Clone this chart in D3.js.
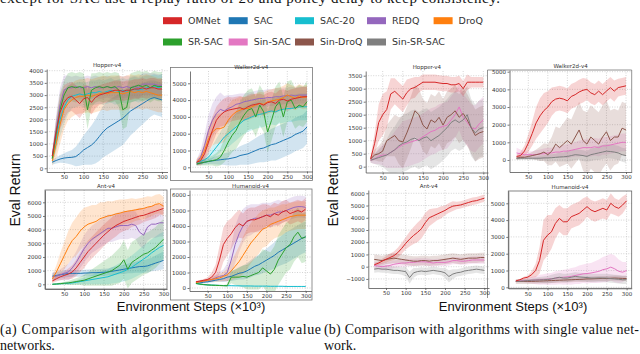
<!DOCTYPE html>
<html>
<head>
<meta charset="utf-8">
<script src="https://cdn.jsdelivr.net/npm/d3@7"></script>
<style>
  body { margin: 0; background: #fff; }
  svg { display: block; }
</style>
</head>
<body>
<div id="container"></div>
<script>
let w = 640;
let h = 354;

// DATA
const steps = [20,30,40,50,60,70,80,90,100,110,120,130,140,150,160,170,180,190,200,210,220,230,240,250,260,270,280,290,300];
const xTicks = [50,100,150,200,250,300];

const legendRow1 = ["OMNet","SAC","SAC-20","REDQ","DroQ"];
const legendRow2 = ["SR-SAC","Sin-SAC","Sin-DroQ","Sin-SR-SAC"];
const multiAlgos = ["SAC","SAC-20","REDQ","DroQ","SR-SAC","OMNet"];
const singleAlgos = ["Sin-SAC","Sin-DroQ","Sin-SR-SAC","OMNet"];

// y tick labels per panel
const hopperMultiTicks = [0,500,1000,1500,2000,2500,3000,3500,4000];
const walkerMultiTicks = [0,1000,2000,3000,4000,5000];
const antMultiTicks = [0,1000,2000,3000,4000,5000,6000];
const humanoidMultiTicks = [0,1000,2000,3000,4000,5000,6000];
const hopperSingleTicks = [0,500,1000,1500,2000,2500,3000,3500];
const walkerSingleTicks = [0,1000,2000,3000,4000,5000];
const antSingleTicks = [-1000,0,1000,2000,3000,4000,5000,6000];
const humanoidSingleTicks = [0,1000,2000,3000,4000,5000];

// means, same order as multiAlgos (SAC, SAC-20, REDQ, DroQ, SR-SAC, OMNet)
const hopperMultiMean = [
  [250,320,380,420,440,450,480,600,750,850,950,1100,1300,1500,1650,1750,1850,1950,2050,2200,2350,2450,2550,2650,2750,2850,2900,2850,2800],
  [400,1200,2000,2500,2800,2950,3000,3050,3000,3050,3100,3100,3150,3100,3150,3200,3100,3150,3200,3150,3200,3250,3200,3250,3300,3300,3350,3300,3350],
  [500,1600,2600,3200,3300,3300,3350,3300,3300,3350,3300,3350,3300,3300,3350,3300,3300,3350,3300,3350,3300,3350,3300,3450,3450,3450,3450,3400,3400],
  [300,1000,1800,2400,2650,2800,2900,2950,2950,3000,2950,3000,3050,3100,3050,3100,3100,3100,3050,3100,3150,3100,3150,3100,3150,3100,3050,3000,3000],
  [400,1400,2400,3000,3300,3350,3300,3350,3300,2400,3200,3300,3350,3300,3350,3300,3350,3200,2400,2500,3300,3350,3400,3350,3400,3300,3400,3350,3350],
  [500,1500,2300,2700,2900,2950,2800,2650,2850,2900,2700,2900,3000,3050,3100,3150,3200,3200,3150,3200,3200,3250,3250,3300,3250,3300,3300,3250,3250]
];
const hopperMultiSpread = [
  [100,120,150,200,250,300,400,500,600,700,800,900,1000,1050,1100,1100,1100,1100,1100,1050,1000,950,900,850,800,750,700,700,700],
  [200,500,700,700,600,500,500,500,500,500,500,500,500,500,500,500,500,500,500,500,500,500,500,500,500,500,500,500,500],
  [200,600,700,600,500,450,450,450,450,450,450,450,450,450,450,450,450,450,450,450,450,450,450,450,450,450,450,450,450],
  [200,600,800,800,700,700,700,700,700,700,700,700,700,700,700,700,700,700,700,700,700,700,700,700,700,700,700,700,700],
  [200,600,700,600,600,600,600,600,600,800,700,600,600,600,600,600,600,700,800,800,600,600,600,600,600,600,600,600,600],
  [200,500,700,700,600,600,600,600,550,500,500,450,400,400,400,400,400,400,400,400,400,400,400,400,400,400,400,400,400]
];

const walkerMultiMean = [
  [200,250,300,350,380,420,450,480,500,550,600,700,750,800,900,1000,1100,1150,1250,1350,1400,1500,1600,1700,1800,1950,2050,2150,2400],
  [300,350,450,600,900,1200,1500,1800,2000,2200,2400,2600,2800,2900,3000,3100,3150,3200,3300,3350,3300,3400,3450,3500,3500,3550,3600,3600,3600],
  [300,600,1300,2200,2800,3200,3450,3350,3500,3600,3750,3800,3900,3950,4000,4050,4100,4100,4150,4150,4200,4200,4250,4250,4300,4250,4300,4300,4300],
  [300,500,1000,1700,2100,2300,2300,2400,2800,3100,3300,3400,3500,3500,3600,3700,3800,3750,3900,3950,4000,4050,4150,4300,4200,4100,4250,4150,4200],
  [200,250,300,350,400,450,600,1000,1500,1900,2200,2700,3100,3400,3500,3000,3700,3300,2100,2800,3600,3900,3000,3900,4000,3500,3700,3600,3900],
  [300,400,800,1500,2200,2800,3100,3300,3400,3450,3500,3550,3450,3600,3700,3750,3800,3700,3850,3900,3800,4000,4050,3950,4050,4100,4150,4200,4200]
];
const walkerMultiSpread = [
  [100,100,150,150,200,250,300,350,400,450,500,550,600,650,700,750,800,850,900,950,1000,1000,1000,1000,1000,1000,1000,1000,1000],
  [100,150,200,300,400,500,600,700,800,800,800,800,800,800,800,800,800,800,800,800,800,800,800,800,800,800,800,800,800],
  [200,400,700,900,1000,1000,1000,900,800,700,600,600,500,500,500,500,500,500,500,500,500,500,500,500,500,500,500,500,500],
  [200,300,500,700,800,900,900,900,900,900,800,800,700,700,700,700,700,700,700,700,700,700,700,700,700,700,700,700,700],
  [100,150,200,250,300,400,500,700,900,1000,1100,1200,1200,1200,1200,1200,1200,1200,1200,1200,1200,1200,1200,1200,1200,1200,1200,1200,1200],
  [150,300,500,700,800,800,800,800,800,700,700,700,700,700,700,600,600,600,600,600,600,600,600,600,600,600,600,600,600]
];

const antMultiMean = [
  [600,650,700,750,780,800,800,800,820,830,850,850,870,880,900,950,1000,1050,1100,1150,1200,1250,1300,1300,1350,1450,1550,1650,1750],
  [0,20,40,60,80,100,150,200,250,300,350,400,450,500,550,650,750,850,950,1100,1250,1450,1650,1850,2050,2300,2500,2700,2850],
  [550,600,700,800,900,1200,1600,2100,2600,3000,3300,3500,3700,3900,4100,4100,4200,4300,4300,4300,4400,4300,3800,3600,4200,4400,4400,4500,4500],
  [400,900,1500,2100,2700,3200,3500,3900,4200,4400,4500,4600,4800,4900,5000,5050,5150,5200,5300,5350,5400,5450,5500,5550,5650,5700,5850,5900,5700],
  [0,20,50,80,100,150,200,250,300,400,500,600,700,800,900,1000,1200,1400,1800,1100,1600,1800,2000,2200,2300,2500,2700,3000,3300],
  [250,400,550,650,750,900,1200,1600,2000,2400,2700,3000,3300,3600,3850,4100,4300,4450,4600,4700,4800,4900,5000,5050,5150,5250,5350,5450,5550]
];
const antMultiSpread = [
  [250,250,250,250,250,250,250,250,250,250,250,250,250,250,250,300,300,300,350,350,400,400,450,450,500,500,550,600,650],
  [50,50,50,80,100,120,150,200,250,300,350,400,450,500,550,600,650,700,750,800,850,900,950,1000,1000,1000,1000,1000,1000],
  [300,300,400,500,600,700,800,900,1000,1000,1000,1000,1000,1000,1000,1000,1000,1000,1000,1000,1000,1000,1000,1000,1000,1000,1000,1000,1000],
  [300,500,800,1000,1200,1300,1400,1400,1400,1300,1300,1200,1200,1100,1100,1000,1000,1000,900,900,900,800,800,800,800,700,700,700,700],
  [50,50,80,100,150,200,250,300,400,500,600,700,800,900,1000,1100,1200,1300,1400,1400,1500,1500,1500,1500,1500,1500,1500,1500,1500],
  [150,200,250,300,400,500,600,700,800,800,800,800,800,800,800,800,800,700,700,700,600,600,600,500,500,500,500,400,400]
];

const humanoidMultiMean = [
  [300,330,370,400,450,500,550,600,700,750,850,950,1000,1100,1250,1400,1500,1650,1800,1950,2100,2300,2450,2600,2750,2900,3050,3200,3300],
  [300,250,220,200,190,180,170,160,150,150,140,140,130,130,130,120,120,120,120,110,110,110,110,100,100,100,100,100,100],
  [400,420,450,500,550,650,750,800,1000,1800,2800,3500,4000,4300,4400,4500,4500,4600,4700,4700,4800,4900,4900,5000,5100,5200,5250,5250,5200],
  [350,400,450,500,550,600,650,750,850,1100,1400,1700,2100,2500,2900,3200,3500,3800,3900,4100,4200,4300,4400,4500,4600,4650,4700,4700,4700],
  [300,250,220,200,180,170,160,150,150,700,700,700,750,700,800,900,1000,1300,1100,900,1200,1800,2200,2600,2800,3300,3600,3200,3300],
  [400,450,500,550,700,1000,1800,2800,3200,3500,3900,4150,4000,4300,4400,4400,4500,4600,4700,4600,4800,4700,4900,5000,4800,4900,5000,4900,5100]
];
const humanoidMultiSpread = [
  [50,50,60,80,100,120,150,200,250,300,350,400,450,500,550,600,650,700,750,800,850,900,950,1000,1000,1000,1000,1000,1000],
  [50,50,40,40,30,30,30,30,30,30,30,30,30,30,30,30,30,30,30,30,30,30,30,30,30,30,30,30,30],
  [50,60,80,100,150,200,300,400,600,900,1200,1200,1100,1000,1000,900,900,900,800,800,800,800,700,700,700,700,700,700,700],
  [50,60,80,100,150,200,250,300,400,600,800,1000,1200,1300,1300,1300,1300,1200,1200,1100,1000,1000,1000,900,900,900,900,900,900],
  [50,50,50,50,50,50,50,50,100,400,500,600,700,800,900,1000,1100,1200,1300,1400,1500,1600,1600,1600,1600,1600,1600,1600,1600],
  [50,60,80,150,300,500,900,1100,1100,1000,900,900,800,800,800,800,800,800,700,700,700,700,700,700,700,700,700,700,700]
];

// means, same order as singleAlgos (Sin-SAC, Sin-DroQ, Sin-SR-SAC, OMNet)
const hopperSingleMean = [
  [250,300,400,450,450,550,650,750,850,900,950,1000,1050,1150,1250,1350,1400,1500,1550,1600,1800,2000,2300,1900,1700,1500,1450,1650,1800],
  [300,450,500,600,1000,1100,1200,1000,950,1300,1700,2150,2000,1600,1450,1800,1700,1900,1600,1900,2000,2150,1900,2050,1800,1500,1200,1300,1350],
  [250,300,350,400,450,550,650,800,900,950,1050,1100,1000,1100,1150,1000,1100,1200,1350,1500,1700,1800,1700,1800,2000,1500,1300,1450,1500],
  [300,900,1700,2000,2200,2800,2900,2750,2600,2850,3000,3050,3150,3250,3250,3250,3250,3220,3200,3200,3150,3150,3200,3000,3250,3250,3250,3250,3250]
];
const hopperSingleSpread = [
  [100,200,300,400,500,600,700,800,900,900,900,900,900,900,900,900,900,900,900,900,900,900,900,900,900,900,900,900,900],
  [100,200,300,400,600,700,800,900,1000,1000,1000,1000,1000,1000,1000,1000,1000,1000,1000,1000,1000,1000,1000,1000,1000,1000,1000,1000,1000],
  [100,200,300,400,600,800,900,1000,1100,1100,1100,1100,1100,1100,1100,1100,1100,1100,1100,1100,1100,1100,1100,1100,1100,1100,1100,1100,1100],
  [100,400,700,800,700,600,500,500,500,500,400,400,300,300,300,300,300,300,300,300,300,300,300,300,300,200,200,200,200]
];

const walkerSingleMean = [
  [400,350,300,300,300,300,350,350,400,400,450,450,500,500,550,600,650,700,700,700,750,700,800,800,850,900,950,1000,1000],
  [100,150,150,200,250,300,350,450,300,500,900,700,900,1100,900,1300,1700,1100,900,1300,1100,900,1300,1600,1100,1300,1300,1800,1700],
  [100,100,100,100,100,100,100,120,120,130,150,170,180,200,250,300,280,250,200,300,350,400,450,500,480,450,400,300,250],
  [200,250,500,950,1500,2100,2500,2800,3000,3300,3450,3500,3450,3350,3600,3700,3850,3950,4000,3800,3700,3900,3700,3900,4100,3900,4100,4150,4200]
];
const walkerSingleSpread = [
  [300,250,200,200,200,250,250,300,300,300,300,350,350,400,400,400,450,450,500,500,500,500,500,500,500,500,500,500,500],
  [100,100,100,150,200,300,400,500,600,800,1000,1100,1200,1300,1400,1500,1600,1700,1800,1800,1800,1800,1800,1800,1700,1600,1500,1500,1500],
  [100,100,100,100,100,100,150,150,200,200,200,250,250,300,300,300,300,300,300,350,350,400,400,400,400,400,400,400,400],
  [100,200,300,500,700,900,1000,1000,900,800,700,700,700,700,700,700,700,700,600,600,600,600,600,600,600,600,500,500,500]
];

const antSingleMean = [
  [100,50,0,50,100,200,250,300,300,350,350,400,400,400,350,300,350,350,350,400,500,500,450,450,500,550,550,550,550],
  [600,550,500,600,650,700,650,600,550,500,450,450,500,500,450,500,500,550,600,650,700,650,600,650,700,700,700,750,750],
  [-200,-150,-200,-200,-250,-300,-300,-350,-400,-900,-500,-400,-350,-400,-350,-300,-350,-400,-500,-800,-600,-500,-450,-350,-300,-250,-200,-250,-300],
  [150,280,450,600,750,900,1150,1500,1900,2250,2550,2800,3100,3600,4000,4150,4300,4450,4600,4800,4950,5000,5050,5150,5250,5350,5400,5500,5600]
];
const antSingleSpread = [
  [300,300,300,300,300,300,300,300,300,300,300,300,300,300,300,300,300,300,300,300,300,300,300,300,300,300,300,300,300],
  [400,400,400,400,400,400,400,400,400,400,400,400,400,400,400,400,400,400,400,400,400,400,400,400,400,400,400,400,400],
  [300,300,300,300,300,300,300,300,400,500,400,300,300,300,300,300,300,300,400,500,400,300,300,300,300,300,300,300,300],
  [100,150,200,250,300,350,400,450,500,600,700,800,800,800,700,600,500,500,400,400,400,300,300,300,300,300,300,300,300]
];

const humanoidSingleMean = [
  [350,380,400,400,420,430,450,470,480,500,550,580,600,620,650,700,750,800,820,850,900,950,1050,1100,1200,1100,950,900,1000],
  [350,350,350,350,350,360,370,380,390,400,410,420,430,440,450,460,470,480,500,500,510,520,530,520,540,550,540,530,520],
  [350,360,380,400,420,430,440,450,460,500,550,600,550,550,600,650,620,600,580,550,550,560,550,550,520,500,480,450,450],
  [380,450,550,600,750,1000,1600,2800,3100,3300,3800,4100,3900,3900,4200,4300,4400,4600,4800,4600,4500,4600,4700,4600,5000,4800,4700,4900,5150]
];
const humanoidSingleSpread = [
  [50,80,100,150,200,250,300,300,350,350,400,400,450,450,500,500,550,550,600,600,650,700,750,800,800,800,700,600,500],
  [150,150,150,150,150,150,150,150,150,150,150,150,150,150,150,150,150,150,150,150,150,150,150,150,150,150,150,150,150],
  [50,60,80,100,120,150,170,200,220,250,250,250,250,250,250,250,250,250,250,250,250,250,250,250,250,250,250,250,250],
  [50,50,80,100,200,400,800,1200,1200,1000,900,800,800,800,700,700,700,700,600,600,600,600,600,600,600,500,500,500,400]
];

const algoColors = {
  "OMNet": "#d62728", "SAC": "#1f77b4", "SAC-20": "#17becf", "REDQ": "#9467bd", "DroQ": "#ff7f0e",
  "SR-SAC": "#2ca02c", "Sin-SAC": "#e377c2", "Sin-DroQ": "#8c564b", "Sin-SR-SAC": "#7f7f7f"
};

// LAYOUT (pixel boxes of each subplot, plus where two reference ticks sit)
let panels = [
  {title:"Hopper-v4", algos:multiAlgos, mean:hopperMultiMean, spread:hopperMultiSpread, yTicks:hopperMultiTicks, box:false,
   left:46.7, right:167.5, top:69, bottom:172, x50:64, x300:162, y0:168.3, yRef:4000, yRefPx:70.7},
  {title:"Walker2d-v4", algos:multiAlgos, mean:walkerMultiMean, spread:walkerMultiSpread, yTicks:walkerMultiTicks, box:false,
   left:190, right:312.5, top:71, bottom:171.5, x50:208.5, x300:307, y0:167.3, yRef:5000, yRefPx:83.3},
  {title:"Ant-v4", algos:multiAlgos, mean:antMultiMean, spread:antMultiSpread, yTicks:antMultiTicks, box:true,
   left:45, right:167, top:190, bottom:289, x50:64.3, x300:163.5, y0:284.3, yRef:6000, yRefPx:202.3},
  {title:"Humanoid-v4", algos:multiAlgos, mean:humanoidMultiMean, spread:humanoidMultiSpread, yTicks:humanoidMultiTicks, box:false,
   left:189.5, right:311.5, top:190, bottom:291, x50:207.7, x300:305.7, y0:288, yRef:6000, yRefPx:195},
  {title:"Hopper-v4", algos:singleAlgos, mean:hopperSingleMean, spread:hopperSingleSpread, yTicks:hopperSingleTicks, box:false,
   left:365.7, right:488, top:71, bottom:172.5, x50:382.7, x300:483.3, y0:166.7, yRef:3500, yRefPx:75.7},
  {title:"Walker2d-v4", algos:singleAlgos, mean:walkerSingleMean, spread:walkerSingleSpread, yTicks:walkerSingleTicks, box:false,
   left:509.5, right:631.7, top:70, bottom:172, x50:528.3, x300:626, y0:160, yRef:5000, yRefPx:71.7},
  {title:"Ant-v4", algos:singleAlgos, mean:antSingleMean, spread:antSingleSpread, yTicks:antSingleTicks, box:false,
   left:368.3, right:489, top:190, bottom:288, x50:386, x300:484.3, y0:266.7, yRef:6000, yRefPx:193.3},
  {title:"Humanoid-v4", algos:singleAlgos, mean:humanoidSingleMean, spread:humanoidSingleSpread, yTicks:humanoidSingleTicks, box:true,
   left:508.3, right:631.7, top:191, bottom:288.3, x50:527.7, x300:626.6, y0:287.3, yRef:5000, yRefPx:203.3}
];

// SVG
let viz = d3.select("#container").append("svg")
    .attr("width", w)
    .attr("height", h)
    .style("background-color", "white");

// text clipped at the very top (rest of the paper paragraph)
viz.append("text")
  .attr("x", 0).attr("y", 3)
  .attr("textLength", 500)
  .style("font-family", "'Liberation Serif', serif")
  .style("font-size", "15px")
  .attr("fill", "#111")
  .text("except for SAC use a replay ratio of 20 and policy delay to keep consistency.");

// LEGEND
let legendX = [163, 228.7, 295, 367, 433.6];
function drawLegendRow(names, y){
  names.forEach(function(name, i){
    viz.append("rect")
      .attr("x", legendX[i]).attr("y", y - 3.5)
      .attr("width", 19).attr("height", 7)
      .attr("fill", algoColors[name]);
    viz.append("text")
      .attr("x", legendX[i] + 25).attr("y", y + 3.3)
      .style("font-family", "'DejaVu Sans', sans-serif")
      .style("font-size", "9.5px")
      .attr("fill", "#333")
      .text(name);
  });
}
drawLegendRow(legendRow1, 20.7);
drawLegendRow(legendRow2, 42);

// outer frames of the pasted sub-figures
let frameStroke = "#777";
viz.append("rect").attr("x",170.5).attr("y",67.5).attr("width",142).attr("height",113)
  .attr("fill","none").attr("stroke",frameStroke).attr("stroke-width",0.8);
viz.append("rect").attr("x",170.5).attr("y",189).attr("width",141.5).attr("height",111)
  .attr("fill","none").attr("stroke",frameStroke).attr("stroke-width",0.8);
viz.append("line").attr("x1",487.5).attr("x2",487.5).attr("y1",70).attr("y2",298)
  .attr("stroke",frameStroke).attr("stroke-width",0.8);
viz.append("line").attr("x1",487.5).attr("x2",631.7).attr("y1",70).attr("y2",70)
  .attr("stroke",frameStroke).attr("stroke-width",0.8);
viz.append("line").attr("x1",631.7).attr("x2",631.7).attr("y1",70).attr("y2",172)
  .attr("stroke",frameStroke).attr("stroke-width",0.8);

let tickFont = "'DejaVu Sans', sans-serif";
let tickFormat = d3.format("d");

panels.forEach(function(p, pi){
  let xBase = d3.scaleLinear().domain([50, 300]).range([p.x50, p.x300]);
  let x = d3.scaleLinear().domain([xBase.invert(p.left), xBase.invert(p.right)]).range([p.left, p.right]);
  let yBase = d3.scaleLinear().domain([0, p.yRef]).range([p.y0, p.yRefPx]);
  let y = d3.scaleLinear().domain([yBase.invert(p.bottom), yBase.invert(p.top)]).range([p.bottom, p.top]);

  let g = viz.append("g").attr("class", "panel");

  let clipId = "clip" + pi;
  g.append("clipPath").attr("id", clipId)
    .append("rect").attr("x", p.left).attr("y", p.top)
    .attr("width", p.right - p.left).attr("height", p.bottom - p.top);

  // grid
  g.selectAll(".vgrid").data(xTicks).enter().append("line")
    .attr("x1", d => x(d)).attr("x2", d => x(d))
    .attr("y1", p.top).attr("y2", p.bottom)
    .attr("stroke", "#b8b8b8").attr("stroke-width", 0.6).attr("stroke-dasharray", "1,1.5");
  g.selectAll(".hgrid").data(p.yTicks).enter().append("line")
    .attr("x1", p.left).attr("x2", p.right)
    .attr("y1", d => y(d)).attr("y2", d => y(d))
    .attr("stroke", "#b8b8b8").attr("stroke-width", 0.6).attr("stroke-dasharray", "1,1.5");

  let plot = g.append("g").attr("clip-path", "url(#" + clipId + ")");

  let areaMaker = d3.area()
    .x(function(d, i){ return x(steps[i]); })
    .y0(function(d){ return y(d[0] - d[1]); })
    .y1(function(d){ return y(d[0] + d[1]); });
  let lineMaker = d3.line()
    .x(function(d, i){ return x(steps[i]); })
    .y(function(d){ return y(d); });

  // bands first, then lines
  p.algos.forEach(function(name, k){
    let pairs = p.mean[k].map(function(m, i){ return [m, p.spread[k][i]]; });
    plot.append("path")
      .attr("d", areaMaker(pairs))
      .attr("fill", algoColors[name])
      .attr("opacity", 0.2);
  });
  p.algos.forEach(function(name, k){
    plot.append("path")
      .attr("d", lineMaker(p.mean[k]))
      .attr("fill", "none")
      .attr("stroke", algoColors[name])
      .attr("stroke-width", 1);
  });

  // axes
  let yAxis = d3.axisLeft(y).tickValues(p.yTicks).tickFormat(tickFormat).tickSize(2).tickSizeOuter(0).tickPadding(1.5);
  let xAxis = d3.axisBottom(x).tickValues(xTicks).tickFormat(tickFormat).tickSize(2).tickSizeOuter(0).tickPadding(1.5);
  let ya = g.append("g").attr("transform", "translate(" + p.left + ",0)").call(yAxis);
  let xa = g.append("g").attr("transform", "translate(0," + p.bottom + ")").call(xAxis);
  [ya, xa].forEach(function(a){
    a.selectAll("path,line").attr("stroke", "#555").attr("stroke-width", 0.8);
    a.selectAll("text").style("font-family", tickFont).style("font-size", "5.5px").attr("fill", "#333");
  });

  // full box only where the sub-figure shows one
  if(p.box){
    g.append("rect")
      .attr("x", p.left).attr("y", p.top)
      .attr("width", p.right - p.left).attr("height", p.bottom - p.top)
      .attr("fill", "none").attr("stroke", "#666").attr("stroke-width", 0.8);
  }

  g.append("text")
    .attr("x", (p.left + p.right) / 2).attr("y", p.top - 2.5)
    .attr("text-anchor", "middle")
    .style("font-family", tickFont).style("font-size", "5.5px")
    .attr("fill", "#333")
    .text(p.title);
});

// AXIS TITLES
let labelFont = "'Liberation Sans', Arial, sans-serif";
[[191, 311], [513, 311]].forEach(function(pos){
  viz.append("text")
    .attr("x", pos[0]).attr("y", pos[1])
    .attr("text-anchor", "middle")
    .style("font-family", labelFont).style("font-size", "13px")
    .attr("fill", "#111")
    .text("Environment Steps (×10³)");
});
[15, 333].forEach(function(cx){
  viz.append("text")
    .attr("transform", "translate(" + (cx + 5) + ",190) rotate(-90)")
    .attr("text-anchor", "middle")
    .style("font-family", labelFont).style("font-size", "14px")
    .attr("fill", "#111")
    .text("Eval Return");
});

// CAPTION
let capFont = "'Liberation Serif', 'Times New Roman', serif";
let captions = [
  {x:0, y:334, len:321, t:"(a) Comparison with algorithms with multiple value"},
  {x:324, y:334, len:315, t:"(b) Comparison with algorithms with single value net-"},
  {x:0, y:350, len:null, t:"networks."},
  {x:324, y:350, len:null, t:"work."}
];
captions.forEach(function(c){
  let t = viz.append("text")
    .attr("x", c.x).attr("y", c.y)
    .style("font-family", capFont).style("font-size", "14px")
    .attr("fill", "#111")
    .text(c.t);
  if(c.len){ t.attr("textLength", c.len).attr("lengthAdjust", "spacing"); }
});
</script>
</body>
</html>
